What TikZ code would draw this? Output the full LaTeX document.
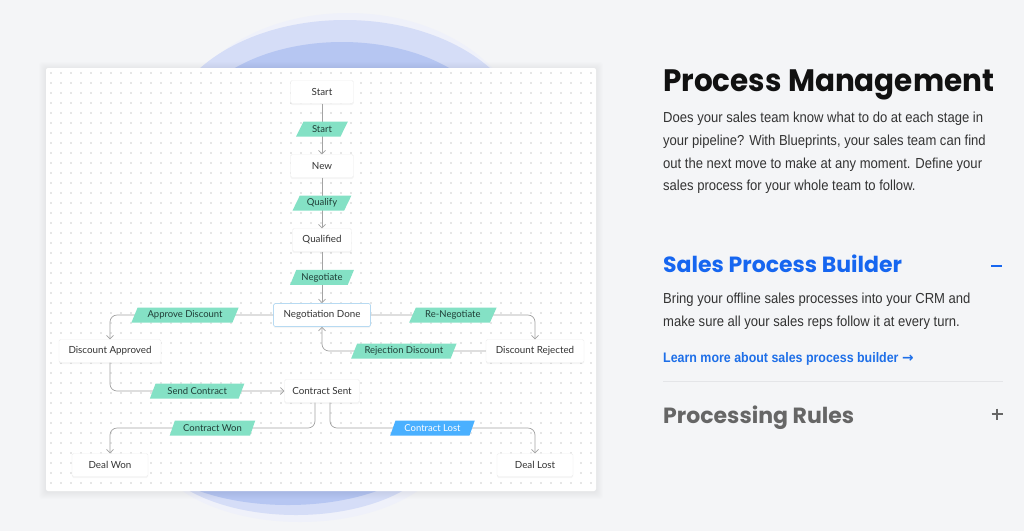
\documentclass[tikz,border=0pt]{standalone}
\usepackage{fontspec}
\setmainfont{Lato}
\newfontfamily\titlefont{Poppins}
\newfontfamily\bigtitlefont[FakeStretch=0.95]{Poppins}
\newfontfamily\bodyfont[FakeStretch=0.9]{Liberation Sans}
\newfontfamily\symfont{DejaVu Sans}
\usetikzlibrary{shapes.geometric,arrows.meta,calc,shadows}
\definecolor{bg}{HTML}{F4F5F7}
\definecolor{connc}{HTML}{A3A3A3}
\definecolor{mint}{HTML}{84E1C5}
\definecolor{mintext}{HTML}{1F3D36}
\definecolor{lostblue}{HTML}{4AB0FF}
\definecolor{boxtext}{HTML}{333333}
\definecolor{boxline}{HTML}{EEEEEE}
\definecolor{ndline}{HTML}{B7DAF2}
\definecolor{dotc}{HTML}{E6E6E6}
\definecolor{blobA}{HTML}{EFF1FA}
\definecolor{blobB}{HTML}{D5DDF7}
\definecolor{blobC}{HTML}{B6C6F2}
\definecolor{titlec}{HTML}{111111}
\definecolor{bodyc}{HTML}{333333}
\definecolor{headblue}{HTML}{1666F0}
\definecolor{linkblue}{HTML}{1E6FE8}
\definecolor{rulegray}{HTML}{666666}
\definecolor{divc}{HTML}{E4E5E8}
\begin{document}
\begin{tikzpicture}[x=1pt,y=-1pt,
  box/.style={fill=white, draw=boxline, line width=0.4pt, rounded corners=1.5pt,
    minimum height=23pt, inner sep=0pt, font=\fontsize{9.8}{11}\selectfont, text=boxtext,
    general shadow={fill=black, opacity=0.04, shadow yshift=-1.5pt}},
  lbl/.style={trapezium, trapezium left angle=60, trapezium right angle=120,
    trapezium stretches=true, sharp corners, fill=mint, minimum height=15pt, inner sep=0pt,
    font=\fontsize{9.5}{11}\selectfont, text=mintext},
  conn/.style={draw=connc, line width=0.7pt, rounded corners=7pt,
    -{Straight Barb[length=3.5pt,width=7pt]}},
  txt/.style={inner sep=0pt, anchor=base west},
]
\useasboundingbox (0,0) rectangle (1024,531);
\fill[bg] (0,0) rectangle (1024,531);
% blobs
\fill[blobA] (348,140) ellipse [x radius=175, y radius=127];
\fill[blobB] (345,140) ellipse [x radius=181, y radius=120];
\fill[blobC] (342,140) ellipse [x radius=158, y radius=98];
\fill[blobA] (300,440) ellipse [x radius=150, y radius=82];
\fill[blobB] (296,440) ellipse [x radius=145, y radius=75];
\fill[blobC] (288,440) ellipse [x radius=143, y radius=65];
% card shadow
\foreach \i in {1,...,7}
  \fill[black, opacity=0.008, rounded corners=3pt] (46-\i,68-\i+1) rectangle (596+\i,491+\i+1);
\fill[white, rounded corners=2pt] (46,68) rectangle (596,491);
% dot grid
\foreach \y in {73,83,...,483}
  \draw[dotc, line width=1.3pt, dash pattern=on 1.3pt off 8.7pt] (50.35,\y) -- (592,\y);
% boxes
\node[box, minimum width=63pt] (start) at (322,92) {Start};
\node[box, minimum width=63pt] (new) at (322,166) {New};
\node[box, minimum width=59pt] (qual) at (322,240) {Qualified};
\node[box, minimum width=97pt, draw=ndline, line width=0.7pt] (nd) at (322,315) {Negotiation Done};
\node[box, minimum width=102pt] (da) at (110,351) {Discount Approved};
\node[box, minimum width=98pt] (dr) at (535,351) {Discount Rejected};
\node[box, minimum width=75pt] (cs) at (322,391) {Contract Sent};
\node[box, minimum width=76pt] (dw) at (110,465) {Deal Won};
\node[box, minimum width=76pt] (dl) at (535,465) {Deal Lost};
\coordinate (wturn) at (110,428);
\coordinate (lturn) at (535,428);
% connectors with labels
\draw[conn] (start) -- node[lbl, minimum width=52pt] (l1) {Start} (new);
\draw[conn] (new) -- node[lbl, minimum width=59pt] (l2) {Qualify} (qual);
\draw[conn] (qual) -- node[lbl, minimum width=64pt] (l3) {Negotiate} (nd);
\draw[conn] (nd.west) -| node[lbl, pos=0.27, minimum width=108pt] (l4) {Approve Discount} (da.north);
\draw[conn] (nd.east) -| node[lbl, pos=0.25, minimum width=88pt] (l5) {Re-Negotiate} (dr.north);
\draw[conn] (dr.west) -| node[lbl, pos=0.25, minimum width=106pt] (l6) {Rejection Discount} (nd.south);
\draw[conn] (da.south) |- node[lbl, pos=0.75, minimum width=95pt] (l7) {Send Contract} (cs.west);
\draw[conn] ([xshift=-7pt]cs.south) |- node[lbl, pos=0.75, minimum width=86pt] (l8) {Contract Won} (wturn) -- (dw.north);
\draw[conn] ([xshift=8pt]cs.south) |- node[lbl, pos=0.75, minimum width=85pt, fill=lostblue, text=white] (l9) {Contract Lost} (lturn) -- (dl.north);
% right side text
\node[txt, text=titlec, font=\bigtitlefont\bfseries\fontsize{31}{36}\selectfont] (title) at (663,91) {Process Management};
\node[txt, text=bodyc, font=\bodyfont\fontsize{14.5}{17}\selectfont] (b1) at (663,122) {Does your sales team know what to do at each stage in};
\node[txt, text=bodyc, font=\bodyfont\fontsize{14.5}{17}\selectfont] (b2) at (663,145) {your pipeline? With Blueprints, your sales team can find};
\node[txt, text=bodyc, font=\bodyfont\fontsize{14.5}{17}\selectfont] (b3) at (663,168) {out the next move to make at any moment. Define your};
\node[txt, text=bodyc, font=\bodyfont\fontsize{14.5}{17}\selectfont] (b4) at (663,190) {sales process for your whole team to follow.};
\node[txt, text=headblue, font=\titlefont\bfseries\fontsize{22}{26}\selectfont] (h2) at (663,272) {Sales Process Builder};
\draw[headblue, line width=1.4pt] (991,266) -- (1002,266);
\node[txt, text=bodyc, font=\bodyfont\fontsize{14.5}{17}\selectfont] (c1) at (663,303) {Bring your offline sales processes into your CRM and};
\node[txt, text=bodyc, font=\bodyfont\fontsize{14.5}{17}\selectfont] (c2) at (663,326) {make sure all your sales reps follow it at every turn.};
\node[txt, text=linkblue, font=\bodyfont\bfseries\fontsize{13.8}{16}\selectfont] (link) at (663,362) {Learn more about sales process builder {\symfont\bfseries →}};
\draw[divc, line width=0.8pt] (663,381) -- (1003,381);
\node[txt, text=rulegray, font=\titlefont\bfseries\fontsize{22}{26}\selectfont] (h3) at (663,423) {Processing Rules};
\draw[rulegray, line width=1.3pt] (991.5,414) -- (1002.5,414) (997,408.5) -- (997,419.5);
\end{tikzpicture}
\end{document}
